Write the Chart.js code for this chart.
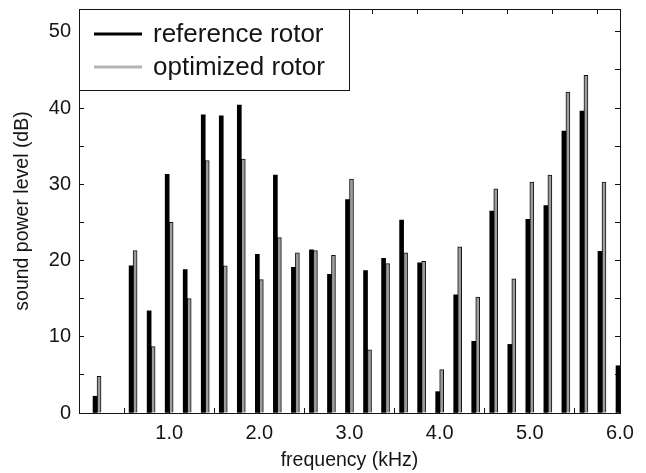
<!DOCTYPE html>
<html>
<head>
<meta charset="utf-8">
<script src="https://cdn.jsdelivr.net/npm/chart.js@4.4.1/dist/chart.umd.min.js"></script>
<style>
  html, body { margin: 0; padding: 0; background: #fff; }
  #wrap { width: 646px; height: 473px; }
</style>
</head>
<body>
<div id="wrap"><canvas id="spectrum" width="646" height="473"></canvas></div>
<script>
// frequencies (kHz) of the tonal components
const freqs = [0.2, 0.6, 0.8, 1.0, 1.2, 1.4, 1.6, 1.8, 2.0, 2.2, 2.4, 2.6, 2.8, 3.0, 3.2,
               3.4, 3.6, 3.8, 4.0, 4.2, 4.4, 4.6, 4.8, 5.0, 5.2, 5.4, 5.6, 5.8, 6.0];
// sound power level (dB)
const referenceRotor = [2.2, 19.3, 13.4, 31.3, 18.8, 39.1, 39.0, 40.4, 20.8, 31.2, 19.1, 21.4, 18.2, 28.0, 18.7,
                        20.3, 25.3, 19.7, 2.8, 15.5, 9.4, 26.5, 9.0, 25.4, 27.2, 37.0, 39.6, 21.2, 6.2];
const optimizedRotor = [4.8, 21.3, 8.7, 25.0, 15.0, 33.1, 19.3, 33.3, 17.5, 23.0, 21.0, 21.3, 20.7, 30.7, 8.3,
                        19.6, 21.0, 19.9, 5.7, 21.8, 15.2, 29.4, 17.6, 30.3, 31.2, 42.1, 44.3, 30.3, null];

const seriesNames = ['reference rotor', 'optimized rotor'];
const xLabelTicks = [1, 2, 3, 4, 5, 6];
const yLabelTicks = [0, 10, 20, 30, 40, 50];

const FONT = '"Liberation Sans", Arial, Helvetica, sans-serif';
const INK = '#151515';

const toPoints = vals => freqs.map((f, i) => ({ x: f, y: vals[i] }));

// legend drawn inside the plot, top left, with a frame
const boxedLegend = {
    id: 'boxedLegend',
    afterDatasetsDraw(chart) {
        const { ctx, chartArea } = chart;
        const x0 = chartArea.left, y0 = chartArea.top;
        const w = 270, h = 81;
        ctx.save();
        ctx.fillStyle = '#fff';
        ctx.fillRect(x0, y0, w, h);
        ctx.strokeStyle = INK;
        ctx.lineWidth = 1;
        ctx.strokeRect(x0 + 0.5, y0 + 0.5, w, h);
        const rows = [
            { label: seriesNames[0], color: '#000', y: y0 + 25 },
            { label: seriesNames[1], color: '#b4b4b4', y: y0 + 58 }
        ];
        ctx.font = '26px ' + FONT;
        ctx.textBaseline = 'middle';
        ctx.textAlign = 'left';
        rows.forEach(r => {
            ctx.strokeStyle = r.color;
            ctx.lineWidth = 3;
            ctx.beginPath();
            ctx.moveTo(x0 + 15, r.y);
            ctx.lineTo(x0 + 63, r.y);
            ctx.stroke();
            ctx.fillStyle = INK;
            ctx.fillText(r.label, x0 + 74, r.y + 1);
        });
        ctx.restore();
    }
};

const tickGrid = { drawOnChartArea: false, drawTicks: true, tickLength: -5, color: INK, lineWidth: 1 };
const axisBorder = { display: true, color: INK, width: 1 };

// fixed scale sizes so the plot area sits where it does in the figure
const fixWidth = w => s => { s.width = w; s.paddingTop = 0; s.paddingBottom = 0; };
const fixHeight = h => s => { s.height = h; s.paddingLeft = 0; s.paddingRight = 0; };

new Chart(document.getElementById('spectrum'), {
    type: 'bar',
    data: {
        datasets: [
            {
                label: seriesNames[0],
                data: toPoints(referenceRotor),
                backgroundColor: '#000',
                borderWidth: 0,
                barThickness: 4,
                clip: 0
            },
            {
                label: seriesNames[1],
                data: toPoints(optimizedRotor),
                backgroundColor: '#9c9c9c',
                borderColor: '#111',
                borderWidth: 1,
                barThickness: 4,
                clip: 0
            }
        ]
    },
    options: {
        responsive: false,
        animation: false,
        events: [],
        layout: { padding: 0 },
        plugins: { legend: { display: false }, tooltip: { enabled: false } },
        scales: {
            x: {
                type: 'linear',
                position: 'bottom',
                min: 0, max: 6,
                offset: false,
                grid: Object.assign({ offset: false }, tickGrid),
                border: axisBorder,
                ticks: {
                    stepSize: 0.5,
                    autoSkip: false,
                    maxRotation: 0,
                    padding: 13,
                    color: INK,
                    font: { family: FONT, size: 20 },
                    callback: v => xLabelTicks.some(t => Math.abs(t - v) < 1e-6) ? v.toFixed(1) : ''
                },
                title: {
                    display: true,
                    text: 'frequency (kHz)',
                    color: INK,
                    font: { family: FONT, size: 19.5 },
                    padding: { top: 0, bottom: 1 }
                },
                afterFit: fixHeight(60)
            },
            x2: {
                type: 'linear',
                position: 'top',
                min: 0, max: 6,
                offset: false,
                grid: tickGrid,
                border: axisBorder,
                ticks: { stepSize: 0.5, autoSkip: false, padding: 0, callback: () => '' },
                afterFit: fixHeight(9)
            },
            y: {
                position: 'left',
                min: 0, max: 53,
                grid: tickGrid,
                border: axisBorder,
                ticks: {
                    stepSize: 5,
                    includeBounds: false,
                    autoSkip: false,
                    padding: 13,
                    color: INK,
                    font: { family: FONT, size: 20 },
                    callback: v => yLabelTicks.includes(v) ? String(v) : ''
                },
                title: {
                    display: true,
                    text: 'sound power level (dB)',
                    color: INK,
                    font: { family: FONT, size: 19.5 },
                    padding: { top: 11, bottom: 0 }
                },
                afterFit: fixWidth(79)
            },
            y2: {
                type: 'linear',
                position: 'right',
                min: 0, max: 53,
                grid: tickGrid,
                border: axisBorder,
                ticks: { stepSize: 5, includeBounds: false, autoSkip: false, padding: 0, callback: () => '' },
                afterFit: fixWidth(26)
            }
        }
    },
    plugins: [boxedLegend]
});
</script>
</body>
</html>
